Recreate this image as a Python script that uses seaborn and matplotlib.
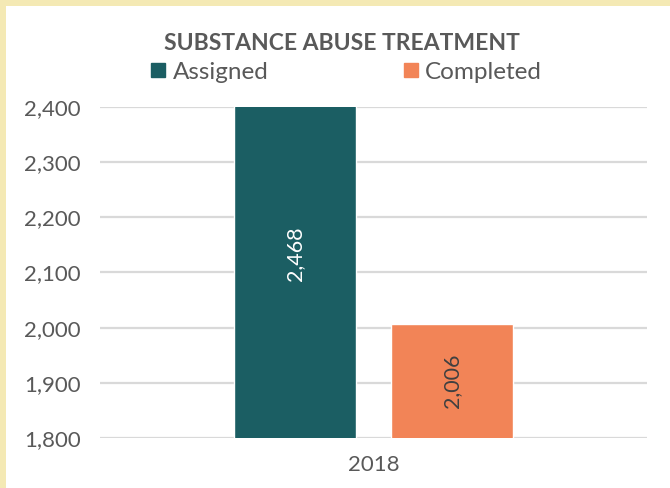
import pandas as pd
import seaborn as sns
import matplotlib.pyplot as plt
from matplotlib.patches import Rectangle
from matplotlib.lines import Line2D
from matplotlib.ticker import StrMethodFormatter

# data
years = ["2018", "2018"]
groups = ["Assigned", "Completed"]
counts = [2468, 2006]
y_ticks = [1800, 1900, 2000, 2100, 2200, 2300, 2400]

colors = {"Assigned": "#1B5E63", "Completed": "#F28457"}
text_gray = "#595959"

df = pd.DataFrame({"year": years, "group": groups, "count": counts})

sns.set_style("white")
plt.rcParams['font.family'] = ['Lato', 'DejaVu Sans']

fig = plt.figure(figsize=(6.7, 4.88), dpi=100)
fig.patch.set_facecolor("#F4E9B4")
# white panel, yellow strip only at top and left
fig.patches.append(Rectangle((6 / 670, 0), 1, 1 - 6 / 488, transform=fig.transFigure,
                             facecolor="white", edgecolor="none", zorder=-5))

ax = fig.add_axes([100 / 670, 1 - 438 / 488, 547 / 670, 331 / 488])
ax.set_facecolor("white")
sns.barplot(data=df, x="year", y="count", hue="group", palette=colors,
            width=0.575, gap=0.22, ax=ax, legend=False, saturation=1)

ax.set_ylim(y_ticks[0], y_ticks[-1])
ax.set_xlim(-0.5, 0.5)
ax.set_yticks(y_ticks)
ax.yaxis.set_major_formatter(StrMethodFormatter("{x:,.0f}"))
ax.grid(axis="y", color="#D9D9D9", linewidth=1.6)
ax.set_axisbelow(True)
for s in ax.spines.values():
    s.set_visible(False)
ax.tick_params(axis="both", length=0, labelsize=16, labelcolor=text_gray, pad=12)
ax.tick_params(axis="y", pad=14)
ax.set_xlabel("")
ax.set_ylabel("")

# value labels, centred between axis minimum and value (as Excel does)
label_colors = ["white", "#404040"]
bars = [p for p in ax.patches if p.get_height() > 0]
for bar, val, c in zip(bars, counts, label_colors):
    x = bar.get_x() + bar.get_width() / 2
    ax.text(x, (y_ticks[0] + val) / 2, f"{val:,}", rotation=90, ha="center", va="center",
            color=c, fontsize=15.5)

fig.text(342 / 670, 1 - 43 / 488, "SUBSTANCE ABUSE TREATMENT", ha="center", va="center",
         fontsize=16.5, fontweight="bold", color=text_gray)

handles = [Line2D([], [], marker="s", linestyle="", markersize=9.5,
                  markerfacecolor=colors[g], markeredgecolor=colors[g]) for g in groups]
leg = fig.legend(handles, groups, loc="center", bbox_to_anchor=(347 / 670, 1 - 72 / 488),
                 ncol=2, frameon=False, fontsize=17.5, handlelength=0.5, handletextpad=0.35,
                 columnspacing=5.6, borderpad=0)
for t in leg.get_texts():
    t.set_color(text_gray)

fig.savefig("out.png", dpi=100, facecolor=fig.get_facecolor())
